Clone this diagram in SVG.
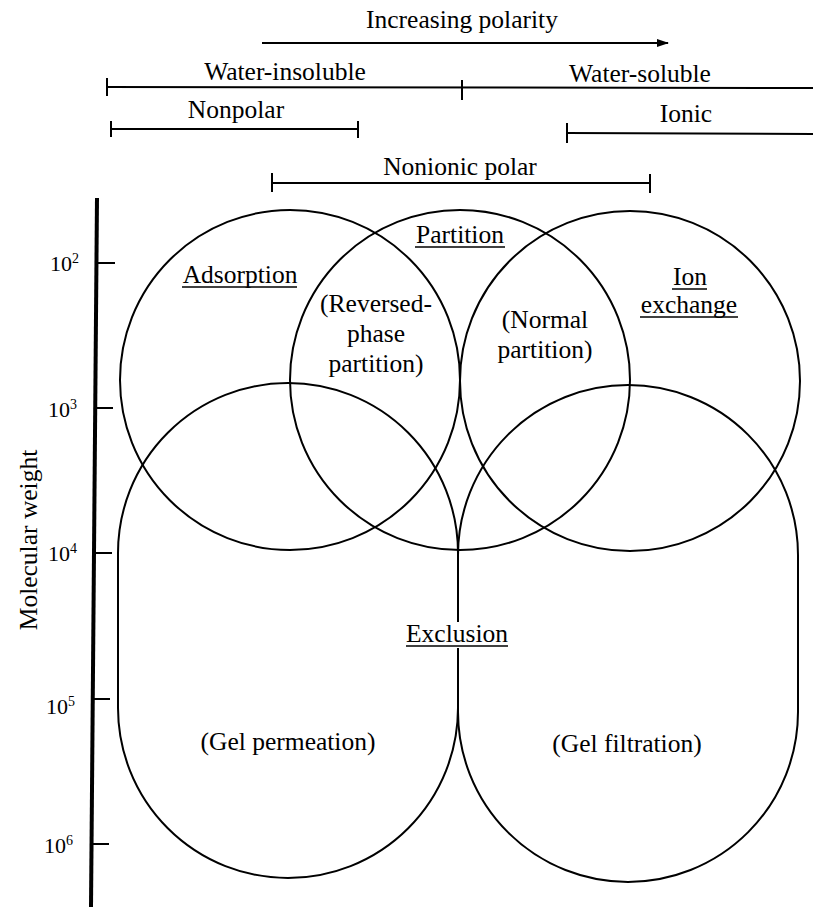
<svg xmlns="http://www.w3.org/2000/svg" width="813" height="907" viewBox="0 0 813 907">
  <defs>
    <marker id="arrowhead" viewBox="0 0 12 8" refX="11" refY="4" markerWidth="12" markerHeight="8" markerUnits="userSpaceOnUse" orient="auto">
      <path d="M0,0 L12,4 L0,8 Z" fill="#000"/>
    </marker>
  </defs>
  <style>
    text { font-family: Liberation Serif, Tinos, Times New Roman, DejaVu Serif, Noto Serif, serif; }
    .lbl { font-size: 25.5px; text-anchor: middle; }
    .tick { font-size: 22px; }
    .sup { font-size: 14px; }
    .shape { fill: none; stroke: #000; stroke-width: 2; }
    .bar { stroke: #000; stroke-width: 2; fill: none; }
    .ul { stroke: #000; stroke-width: 1.6; }
  </style>
  <rect width="813" height="907" fill="#fff"/>

  <g fill="#000">

  <!-- polarity scale across the top -->
  <g id="connectors">
    <line class="bar" x1="262" y1="43" x2="668" y2="43" marker-end="url(#arrowhead)"/>
    <!-- water-insoluble / water-soluble -->
    <line class="bar" x1="107" y1="87" x2="813" y2="88"/>
    <line class="bar" x1="107" y1="78" x2="107" y2="96"/>
    <line class="bar" x1="462" y1="80" x2="462" y2="100"/>
    <!-- nonpolar -->
    <line class="bar" x1="111" y1="129" x2="358" y2="129"/>
    <line class="bar" x1="111" y1="121" x2="111" y2="137"/>
    <line class="bar" x1="358" y1="121" x2="358" y2="138"/>
    <!-- ionic -->
    <line class="bar" x1="567" y1="133" x2="813" y2="134"/>
    <line class="bar" x1="567" y1="123" x2="567" y2="143"/>
    <!-- nonionic polar -->
    <line class="bar" x1="272" y1="183" x2="650" y2="183"/>
    <line class="bar" x1="272" y1="173" x2="272" y2="192"/>
    <line class="bar" x1="650" y1="174" x2="650" y2="193"/>
  </g>
  <g id="scale-labels">
    <text class="lbl" x="462" y="28" font-family="Liberation Serif">Increasing polarity</text>
    <text class="lbl" x="285" y="80" font-family="Liberation Serif">Water-insoluble</text>
    <text class="lbl" x="640" y="82" font-family="Liberation Serif">Water-soluble</text>
    <text class="lbl" x="236" y="118" font-family="Liberation Serif">Nonpolar</text>
    <text class="lbl" x="686" y="122" font-family="Liberation Serif">Ionic</text>
    <text class="lbl" x="460" y="175" font-family="Liberation Serif">Nonionic polar</text>
  </g>

  <!-- molecular weight axis -->
  <g id="axis">
    <line x1="97" y1="198" x2="91" y2="907" stroke="#000" stroke-width="4"/>
    <line class="bar" x1="96" y1="263" x2="115" y2="263"/>
    <line class="bar" x1="95" y1="408" x2="113" y2="408"/>
    <line class="bar" x1="94" y1="553" x2="112" y2="553"/>
    <line class="bar" x1="93" y1="699" x2="110" y2="699"/>
    <line class="bar" x1="92" y1="844" x2="109" y2="844"/>
    <text class="tick" x="50" y="271">10<tspan class="sup" dy="-8">2</tspan></text>
    <text class="tick" x="48" y="417">10<tspan class="sup" dy="-8">3</tspan></text>
    <text class="tick" x="48" y="561">10<tspan class="sup" dy="-8">4</tspan></text>
    <text class="tick" x="46" y="714">10<tspan class="sup" dy="-8">5</tspan></text>
    <text class="tick" x="44" y="853">10<tspan class="sup" dy="-8">6</tspan></text>
    <text class="lbl" transform="translate(37,540) rotate(-90)">Molecular weight</text>
  </g>

  <!-- exclusion: two overlapping capsule regions -->
  <g id="exclusion">
    <path class="shape" d="M118,553 A170,170 0 0 1 458,553 L458,708 A170,170 0 0 1 118,708 Z"/>
    <path class="shape" d="M458,555 A170,170 0 0 1 798,555 L798,712 A170,170 0 0 1 458,712 Z"/>
    <rect x="404" y="622" width="106" height="26" fill="#fff"/>
    <text class="lbl" x="457" y="642">Exclusion</text>
    <line class="ul" x1="406" y1="646" x2="508" y2="646"/>
    <text class="lbl" x="288" y="750">(Gel permeation)</text>
    <text class="lbl" x="627" y="752">(Gel filtration)</text>
  </g>

  <g id="adsorption">
    <circle class="shape" cx="290" cy="380" r="170"/>
    <text class="lbl" x="240" y="283">Adsorption</text>
    <line class="ul" x1="182" y1="287" x2="297" y2="287"/>
  </g>

  <g id="partition">
    <circle class="shape" cx="460" cy="380" r="170"/>
    <text class="lbl" x="460" y="243">Partition</text>
    <line class="ul" x1="415" y1="247" x2="505" y2="247"/>
    <text class="lbl" x="376" y="312">(Reversed-</text>
    <text class="lbl" x="376" y="342">phase</text>
    <text class="lbl" x="376" y="372">partition)</text>
    <text class="lbl" x="545" y="328">(Normal</text>
    <text class="lbl" x="545" y="358">partition)</text>
  </g>

  <g id="ion-exchange">
    <circle class="shape" cx="630" cy="381" r="170"/>
    <text class="lbl" x="690" y="285">Ion</text>
    <line class="ul" x1="672" y1="289" x2="707" y2="289"/>
    <text class="lbl" x="689" y="313">exchange</text>
    <line class="ul" x1="640" y1="317" x2="738" y2="317"/>
  </g>

  </g>
</svg>
